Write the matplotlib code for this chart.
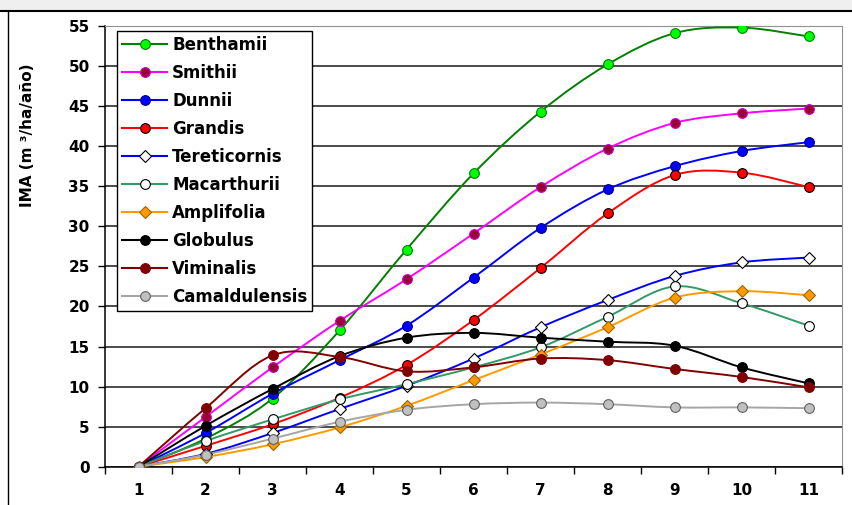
import matplotlib
matplotlib.use("Agg")
import matplotlib.pyplot as plt
import numpy as np
from matplotlib.path import Path
from matplotlib.patches import PathPatch, Rectangle
from matplotlib.lines import Line2D

# data (IMA, m3/ha/year) by age
edad = [1, 2, 3, 4, 5, 6, 7, 8, 9, 10, 11]
especies = ["Benthamii", "Smithii", "Dunnii", "Grandis", "Tereticornis",
            "Macarthurii", "Amplifolia", "Globulus", "Viminalis", "Camaldulensis"]
benthamii = [0, 3.5, 8.5, 17.0, 27.1, 36.6, 44.3, 50.2, 54.1, 54.8, 53.7]
smithii = [0, 6.2, 12.4, 18.2, 23.4, 29.1, 34.9, 39.7, 42.9, 44.1, 44.7]
dunnii = [0, 4.2, 9.1, 13.3, 17.6, 23.6, 29.8, 34.6, 37.5, 39.4, 40.5]
grandis = [0, 2.6, 5.3, 8.6, 12.7, 18.3, 24.8, 31.6, 36.4, 36.7, 34.9]
tereticornis = [0, 1.6, 4.2, 7.2, 10.1, 13.5, 17.4, 20.8, 23.8, 25.5, 26.1]
macarthurii = [0, 3.2, 5.9, 8.4, 10.3, 12.4, 14.9, 18.7, 22.5, 20.4, 17.6]
amplifolia = [0, 1.2, 2.8, 4.9, 7.6, 10.8, 14.0, 17.4, 21.1, 21.9, 21.4]
globulus = [0, 5.1, 9.7, 13.8, 16.1, 16.7, 16.1, 15.6, 15.1, 12.4, 10.4]
viminalis = [0, 7.3, 13.9, 13.7, 11.9, 12.4, 13.5, 13.3, 12.2, 11.2, 9.9]
camaldulensis = [0, 1.5, 3.5, 5.6, 7.1, 7.8, 8.0, 7.8, 7.4, 7.4, 7.3]
series = [benthamii, smithii, dunnii, grandis, tereticornis,
          macarthurii, amplifolia, globulus, viminalis, camaldulensis]

# style: line colour, marker, face, edge
estilos = [
    ("#008000", "o", "#00FF00", "#008000"),
    ("#FF00FF", "o", "#990033", "#CC00CC"),
    ("#0000FF", "o", "#0000FF", "#000080"),
    ("#FF0000", "o", "#FF0000", "#000000"),
    ("#0000FF", "D", "#FFFFFF", "#000000"),
    ("#339966", "o", "#FFFFFF", "#000000"),
    ("#FF9900", "D", "#FF9900", "#996600"),
    ("#000000", "o", "#000000", "#000000"),
    ("#800000", "o", "#800000", "#800000"),
    ("#A6A6A6", "o", "#C0C0C0", "#606060"),
]


def smooth_path(x, y):
    # Excel-like smoothed line as cubic bezier segments through the points
    p = np.column_stack([x, y]).astype(float)
    n = len(p)
    verts = [p[0]]
    codes = [Path.MOVETO]
    for i in range(n - 1):
        p0 = p[max(i - 1, 0)]
        p1 = p[i]
        p2 = p[i + 1]
        p3 = p[min(i + 2, n - 1)]
        verts += [p1 + (p2 - p0) / 6, p2 - (p3 - p1) / 6, p2]
        codes += [Path.CURVE4] * 3
    return Path(verts, codes)


plt.rcParams["font.family"] = "DejaVu Sans"
plt.rcParams["font.weight"] = "bold"

fig = plt.figure(figsize=(8.52, 5.05), dpi=100)

# window-like frame
fig.patches.append(Rectangle((0, 1 - 11 / 505), 1, 11 / 505, transform=fig.transFigure,
                             facecolor="#EFEFEF", edgecolor="none", zorder=0))
fig.lines.append(Line2D([0, 1], [1 - 11 / 505] * 2, transform=fig.transFigure,
                        color="black", lw=1.5))
fig.lines.append(Line2D([8 / 852] * 2, [0, 1 - 11 / 505], transform=fig.transFigure,
                        color="black", lw=1.0))

ax = fig.add_axes([105 / 852, 1 - 466.7 / 505, 737 / 852, 440.7 / 505])

for vals, (lc, mk, fc, ec) in zip(series, estilos):
    ax.add_patch(PathPatch(smooth_path(edad, vals), facecolor="none",
                           edgecolor=lc, lw=1.4, zorder=3))
    ms = 6.5 if mk == "D" else 7
    ax.plot(edad, vals, ls="none", marker=mk, ms=ms, mfc=fc, mec=ec,
            mew=0.8, zorder=4)

ax.set_xlim(0.5, 11.5)
ax.set_ylim(0, 55)
ax.set_yticks(np.arange(0, 56, 5))
ax.set_xticks(edad)
ax.set_xticks(np.arange(0.5, 11.6, 1), minor=True)
ax.tick_params(axis="x", which="major", length=0, pad=12, labelsize=11)
ax.tick_params(axis="x", which="minor", length=5, width=1, direction="out")
ax.tick_params(axis="y", length=5, width=1, pad=6, labelsize=11)
for lab in ax.get_xticklabels() + ax.get_yticklabels():
    lab.set_fontweight("bold")

ax.grid(axis="y", color="#1A1A1A", lw=1.1, zorder=1)
ax.set_axisbelow(True)
ax.spines["top"].set_color("#909090")
ax.spines["right"].set_color("#909090")
ax.spines["left"].set_linewidth(1.1)
ax.spines["bottom"].set_linewidth(1.1)

fig.text(28 / 852, 1 - 135 / 505, "IMA (m ³/ha/año)", rotation=90,
         ha="center", va="center", fontsize=11, fontweight="bold")

handles = [Line2D([], [], color=lc, lw=1.5, marker=mk,
                  ms=(6.5 if mk == "D" else 7), mfc=fc, mec=ec, mew=0.8)
           for (lc, mk, fc, ec) in estilos]
leg = ax.legend(handles, especies, loc="upper left",
                bbox_to_anchor=(12 / 737, (466.7 - 31) / 440.7),
                borderaxespad=0, fancybox=False, frameon=True, edgecolor="black",
                framealpha=1, fontsize=12, numpoints=1, handlelength=2.7,
                handletextpad=0.3, labelspacing=0.6, borderpad=0.3)
leg.get_frame().set_linewidth(1.0)
leg.set_zorder(5)
for t in leg.get_texts():
    t.set_fontweight("bold")

fig.savefig("out.png", dpi=100)
